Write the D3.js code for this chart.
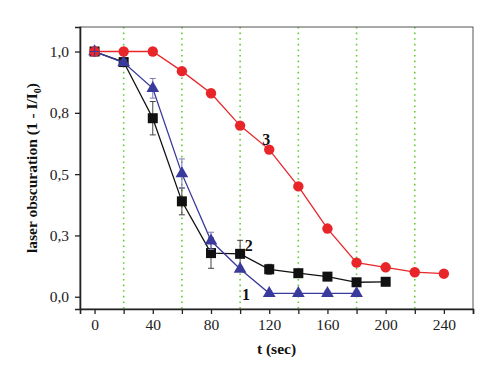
<!DOCTYPE html>
<html><head><meta charset="utf-8">
<script src="https://cdn.jsdelivr.net/npm/d3@7"></script>
<style>body{margin:0;background:#fff}svg{display:block}</style>
</head><body>
<script>
const times = [0,20,40,60,80,100,120,140,160,180,200,220,240];
const series1 = [1.0,0.955,0.85,0.502,0.228,0.113,0.014,0.014,0.014,0.014];
const err1 =    [0.01,0.01,0.04,0.06,0.035,0.01,0.01,0.01,0.01,0.01];
const series2 = [1.0,0.957,0.728,0.389,0.178,0.175,0.112,0.096,0.082,0.059,0.061];
const err2 =    [0.01,0.012,0.068,0.055,0.062,0.055,0.02,0.01,0.01,0.005,0.0];
const series3 = [1.0,1.0,1.0,0.92,0.83,0.698,0.60,0.45,0.278,0.139,0.12,0.10,0.094];
const yTickVals = [0,0.25,0.5,0.75,1.0];
const yTickLabels = ["0,0","0,3","0,5","0,8","1,0"];
const xTickVals = [0,40,80,120,160,200,240];
const xMinorVals = [20,60,100,140,180,220,260];
const gridVals = [20,60,100,140,180,220];
const seriesLabels = [{t:"3",x:118,y:0.635},{t:"2",x:106,y:0.2},{t:"1",x:104,y:0.0}];

const W=500,H=380, L=80, R=473, T=27, B=309;
const svg=d3.select("body").append("svg").attr("width",W).attr("height",H);
const x=d3.scaleLinear().domain([-10,260]).range([L,R]);
const y=d3.scaleLinear().domain([-0.05,1.1]).range([B,T]);
const font="'Liberation Serif','DejaVu Serif',serif";

// grid
svg.append("g").selectAll("line").data(gridVals).join("line")
  .attr("x1",d=>x(d)).attr("x2",d=>x(d)).attr("y1",T).attr("y2",B)
  .attr("stroke","#66cc33").attr("stroke-width",1.6).attr("stroke-dasharray","1.6,4");

// frame
svg.append("rect").attr("x",L).attr("y",T).attr("width",R-L).attr("height",B-T)
  .attr("fill","none").attr("stroke","#555").attr("stroke-width",1);

// axes
svg.append("g").attr("transform",`translate(0,${B})`)
  .call(d3.axisBottom(x).tickValues(xTickVals).tickSize(5).tickPadding(5).tickFormat(d3.format("d")));
svg.append("g").attr("transform",`translate(0,${B})`)
  .call(d3.axisBottom(x).tickValues(xMinorVals).tickSize(5).tickFormat(""))
  .call(g=>g.select(".domain").remove());
svg.append("g").attr("transform",`translate(${L},0)`)
  .call(d3.axisLeft(y).tickValues(yTickVals).tickSize(5).tickPadding(6).tickFormat((d,i)=>yTickLabels[i]));
svg.selectAll(".domain").attr("stroke","#222").attr("stroke-width",1.6);
svg.selectAll(".tick line").attr("stroke","#222").attr("stroke-width",1.3);
svg.selectAll(".tick text").attr("font-family",font).attr("font-size",15.5).attr("fill","#222");

const line=d3.line().x(d=>x(d[0])).y(d=>y(d[1]));
const d1=series1.map((v,i)=>[times[i],v,err1[i]]);
const d2=series2.map((v,i)=>[times[i],v,err2[i]]);
const d3d=series3.map((v,i)=>[times[i],v]);

function errbars(data,color){
  const g=svg.append("g").attr("stroke",color).attr("stroke-width",1);
  data.forEach(d=>{
    if(d[2]<=0.004) return;
    g.append("line").attr("x1",x(d[0])).attr("x2",x(d[0])).attr("y1",y(d[1]-d[2])).attr("y2",y(d[1]+d[2]));
    [d[1]-d[2],d[1]+d[2]].forEach(v=>g.append("line").attr("x1",x(d[0])-3).attr("x2",x(d[0])+3).attr("y1",y(v)).attr("y2",y(v)));
  });
}

// series 2 (black squares)
errbars(d2,"#444");
svg.append("path").datum(d2).attr("d",line).attr("fill","none").attr("stroke","#111").attr("stroke-width",1.3);
svg.append("g").selectAll("rect").data(d2).join("rect")
  .attr("x",d=>x(d[0])-5).attr("y",d=>y(d[1])-5).attr("width",10).attr("height",10).attr("fill","#111");

// series 1 (blue triangles)
errbars(d1,"#7a7ab8");
svg.append("path").datum(d1).attr("d",line).attr("fill","none").attr("stroke","#3a3a9c").attr("stroke-width",1.3);
svg.append("g").selectAll("path.tri").data(d1).join("path").attr("class","tri")
  .attr("d",d3.symbol().type(d3.symbolTriangle).size(70))
  .attr("transform",d=>`translate(${x(d[0])},${y(d[1])})`).attr("fill","#3a3a9c");

// series 3 (red circles)
svg.append("path").datum(d3d).attr("d",line).attr("fill","none").attr("stroke","#e8262a").attr("stroke-width",1.3);
svg.append("g").selectAll("circle").data(d3d).join("circle")
  .attr("cx",d=>x(d[0])).attr("cy",d=>y(d[1])).attr("r",5.2).attr("fill","#e8262a");
svg.append("g").attr("stroke","#3a3a9c").attr("stroke-width",1)
  .call(g=>{g.append("line").attr("x1",x(0)-5).attr("x2",x(0)+5).attr("y1",y(1)).attr("y2",y(1));
            g.append("line").attr("x1",x(0)).attr("x2",x(0)).attr("y1",y(1)-5).attr("y2",y(1)+5);});

// series labels
svg.append("g").selectAll("text").data(seriesLabels).join("text")
  .attr("x",d=>x(d.x)).attr("y",d=>y(d.y)).attr("font-family",font).attr("font-weight","bold")
  .attr("font-size",16).attr("text-anchor","middle").attr("dominant-baseline","middle").attr("fill","#111").text(d=>d.t);

// axis titles
svg.append("text").attr("x",(L+R)/2).attr("y",354).attr("text-anchor","middle")
  .attr("font-family",font).attr("font-weight","bold").attr("font-size",15.5).attr("fill","#111").text("t (sec)");
const yt=svg.append("text").attr("transform",`translate(37,${(T+B)/2}) rotate(-90)`).attr("text-anchor","middle")
  .attr("font-family",font).attr("font-weight","bold").attr("font-size",15.5).attr("fill","#111");
yt.append("tspan").text("laser obscuration (1 - I/I");
yt.append("tspan").attr("font-size",10).attr("dy",4).text("0");
yt.append("tspan").attr("dy",-4).text(")");
</script>
</body></html>
